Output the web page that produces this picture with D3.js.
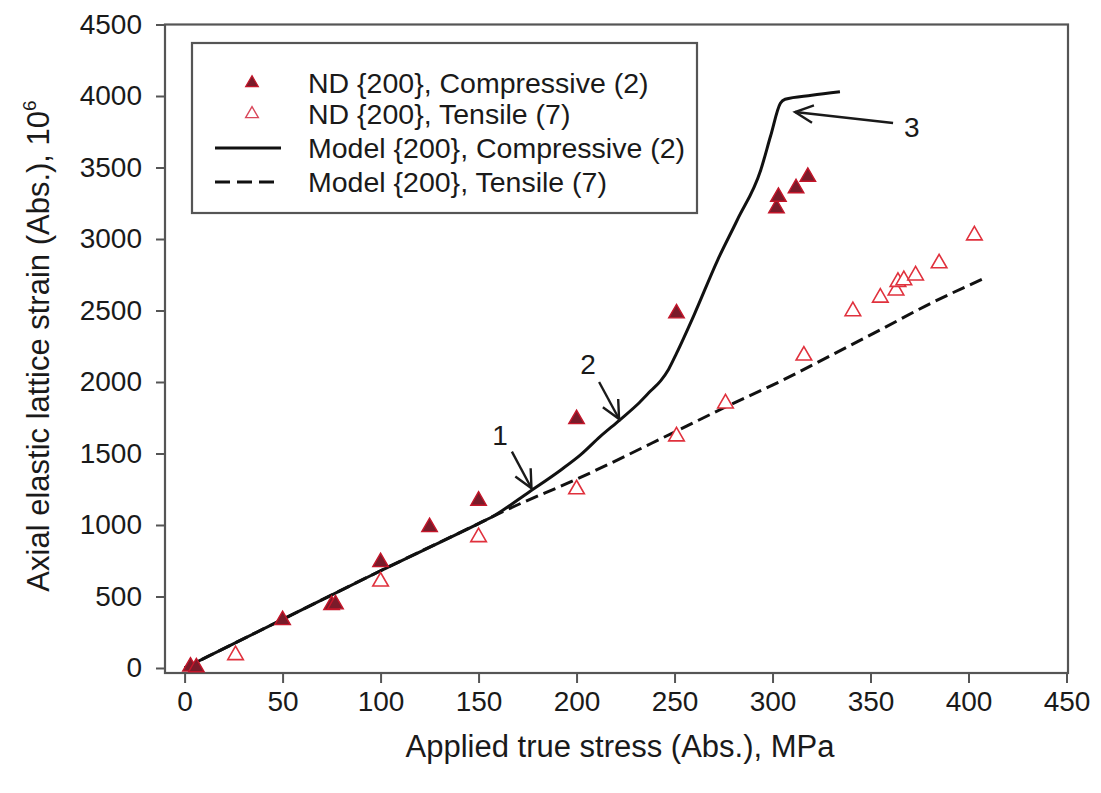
<!DOCTYPE html>
<html>
<head>
<meta charset="utf-8">
<script src="https://cdn.jsdelivr.net/npm/d3@7"></script>
<style>
  body { margin: 0; background: #ffffff; }
  svg { display: block; }
  text { font-family: "Liberation Sans", Arial, Helvetica, sans-serif; fill: #1a1a1a; }
</style>
</head>
<body>
<svg id="chart" width="1101" height="793"></svg>
<script>
// Axis ticks
const xTickValues = [0, 50, 100, 150, 200, 250, 300, 350, 400, 450];
const yTickValues = [0, 500, 1000, 1500, 2000, 2500, 3000, 3500, 4000, 4500];

// Measured lattice strain, compressive loading (ND {200})
const compStress = [3, 6, 50, 75, 77, 100, 125, 150, 200, 251, 302, 303, 312, 318];
const compStrain = [10, 5, 335, 440, 445, 740, 985, 1170, 1740, 2480, 3215, 3295, 3355, 3435];

// Measured lattice strain, tensile loading (ND {200})
const tensStress = [26, 100, 150, 200, 251, 276, 316, 341, 355, 363, 364, 367, 373, 385, 403];
const tensStrain = [90, 605, 915, 1250, 1620, 1850, 2185, 2495, 2590, 2640, 2700, 2712, 2745, 2830, 3025];

// Model prediction, compressive
const modelCompStress = [0, 50, 100, 150, 157, 176, 192, 202, 212, 222, 232, 238, 243, 247, 251, 260, 272, 282, 294, 299, 304, 306.4, 320, 334.4];
const modelCompStrain = [0, 340, 680, 1010, 1058, 1233, 1385, 1490, 1618, 1734, 1855, 1940, 2010, 2090, 2200, 2470, 2853, 3133, 3483, 3720, 3949, 3977, 4005, 4030];

// Model prediction, tensile
const modelTensStress = [0, 50, 100, 150, 165, 200, 250, 275, 304, 329, 355, 380, 408];
const modelTensStrain = [0, 340, 680, 1010, 1110, 1320, 1650, 1818, 2005, 2180, 2365, 2545, 2725];

// Legend entries
const legendLabels = [
  "ND {200}, Compressive (2)",
  "ND {200}, Tensile (7)",
  "Model {200}, Compressive (2)",
  "Model {200}, Tensile (7)"
];

// Numbered call-outs: label, arrow tip, arrow tail, label position (data units)
const noteLabels = ["1", "2", "3"];
const noteTipStress = [177, 221.7, 311.5];
const noteTipStrain = [1257, 1741, 3888];
const noteTailStress = [167, 211.5, 361.5];
const noteTailStrain = [1513, 2000, 3811];
const noteTextStress = [160.9, 205.9, 371];
const noteTextStrain = [1629, 2126, 3783];

const svg = d3.select("#chart");

const x = d3.scaleLinear().domain([-10, 450]).range([165, 1066.5]);
const y = d3.scaleLinear().domain([-35, 4500]).range([673, 24.5]);

const axisColor = "#555555";

// Frame: left and bottom axes, plus top and right borders
svg.append("rect")
  .attr("x", x(-10)).attr("y", y(4500))
  .attr("width", 1068 - x(-10)).attr("height", y(-35) - y(4500))
  .attr("fill", "none").attr("stroke", axisColor).attr("stroke-width", 2.2);

// Y axis
const yAxis = d3.axisLeft(y).tickValues(yTickValues).tickSize(9).tickPadding(14).tickFormat(d3.format("d"));
const gy = svg.append("g").attr("transform", `translate(${x(-10)},0)`).call(yAxis);
gy.select(".domain").remove();
gy.selectAll(".tick line").attr("stroke", axisColor).attr("stroke-width", 2);
gy.selectAll(".tick text").attr("font-size", 28).attr("font-family", "Liberation Sans, Arial, sans-serif").attr("fill", "#1a1a1a");

// X axis
const xAxis = d3.axisBottom(x).tickValues(xTickValues).tickSize(10).tickPadding(8).tickFormat(d3.format("d"));
const gx = svg.append("g").attr("transform", `translate(0,${y(-35)})`).call(xAxis);
gx.select(".domain").remove();
gx.selectAll(".tick line").attr("stroke", axisColor).attr("stroke-width", 2);
gx.selectAll(".tick text").attr("font-size", 28).attr("font-family", "Liberation Sans, Arial, sans-serif").attr("fill", "#1a1a1a");

// Axis titles
svg.append("text")
  .attr("x", 620).attr("y", 757)
  .attr("text-anchor", "middle").attr("font-size", 31)
  .text("Applied true stress (Abs.), MPa");

const yTitle = svg.append("text")
  .attr("transform", "translate(49,346) rotate(-90)")
  .attr("text-anchor", "middle").attr("font-size", 31);
yTitle.append("tspan").text("Axial elastic lattice strain (Abs.), 10");
yTitle.append("tspan").attr("font-size", 19).attr("dy", -13).text("6");

// Model curves
const lineGen = d3.line()
  .x(d => x(d[0]))
  .y(d => y(d[1]))
  .curve(d3.curveMonotoneX);

const modelTens = modelTensStress.map((s, i) => [s, modelTensStrain[i]]);
const modelComp = modelCompStress.map((s, i) => [s, modelCompStrain[i]]);

svg.append("path").datum(modelTens)
  .attr("d", lineGen).attr("fill", "none")
  .attr("stroke", "#111").attr("stroke-width", 3)
  .attr("stroke-dasharray", "13,6");

svg.append("path").datum(modelComp)
  .attr("d", lineGen).attr("fill", "none")
  .attr("stroke", "#111").attr("stroke-width", 3);

// Markers
const tri = d3.symbol().type(d3.symbolTriangle).size(105);
const triSmall = d3.symbol().type(d3.symbolTriangle).size(70);

const tens = tensStress.map((s, i) => [s, tensStrain[i]]);
const comp = compStress.map((s, i) => [s, compStrain[i]]);

svg.append("g").selectAll("path").data(tens).join("path")
  .attr("d", tri)
  .attr("transform", d => `translate(${x(d[0])},${y(d[1])})`)
  .attr("fill", "#ffffff").attr("stroke", "#e0313d").attr("stroke-width", 1.6);

svg.append("g").selectAll("path").data(comp).join("path")
  .attr("d", tri)
  .attr("transform", d => `translate(${x(d[0])},${y(d[1])})`)
  .attr("fill", "#7a1b2a").attr("stroke", "#c4162a").attr("stroke-width", 1.4);

// Call-out arrows
function arrow(x1, y1, x2, y2) {
  const g = svg.append("g").attr("stroke", "#1a1a1a").attr("stroke-width", 2.4).attr("fill", "none");
  g.append("line").attr("x1", x1).attr("y1", y1).attr("x2", x2).attr("y2", y2);
  const ang = Math.atan2(y1 - y2, x1 - x2);
  const len = 20, spread = 0.45;
  const p1 = [x2 + len * Math.cos(ang + spread), y2 + len * Math.sin(ang + spread)];
  const p2 = [x2 + len * Math.cos(ang - spread), y2 + len * Math.sin(ang - spread)];
  g.append("path").attr("d", `M${p1[0]},${p1[1]}L${x2},${y2}L${p2[0]},${p2[1]}`)
    .attr("stroke-linejoin", "miter");
}
noteLabels.forEach((lab, i) => {
  arrow(x(noteTailStress[i]), y(noteTailStrain[i]), x(noteTipStress[i]), y(noteTipStrain[i]));
  svg.append("text")
    .attr("x", x(noteTextStress[i])).attr("y", y(noteTextStrain[i]))
    .attr("dy", "0.36em").attr("text-anchor", "middle")
    .attr("font-size", 28).text(lab);
});

// Legend
const lg = svg.append("g");
lg.append("rect")
  .attr("x", 192).attr("y", 43).attr("width", 505).attr("height", 170)
  .attr("fill", "#ffffff").attr("stroke", axisColor).attr("stroke-width", 2.2);

const rowY = [83, 114, 148, 182];
const textX = 308;
legendLabels.forEach((lab, i) => {
  lg.append("text").attr("x", textX).attr("y", rowY[i]).attr("dy", "0.36em")
    .attr("font-size", 28.5).text(lab);
});
lg.append("path").attr("d", triSmall)
  .attr("transform", `translate(252,${rowY[0]})`)
  .attr("fill", "#7a1b2a").attr("stroke", "#c4162a").attr("stroke-width", 1.2);
lg.append("path").attr("d", triSmall)
  .attr("transform", `translate(252,${rowY[1]})`)
  .attr("fill", "#ffffff").attr("stroke", "#d9475a").attr("stroke-width", 1.4);
lg.append("line").attr("x1", 215).attr("x2", 281).attr("y1", rowY[2]).attr("y2", rowY[2])
  .attr("stroke", "#111").attr("stroke-width", 3);
lg.append("line").attr("x1", 215).attr("x2", 281).attr("y1", rowY[3]).attr("y2", rowY[3])
  .attr("stroke", "#111").attr("stroke-width", 3).attr("stroke-dasharray", "15,7");
</script>
</body>
</html>
